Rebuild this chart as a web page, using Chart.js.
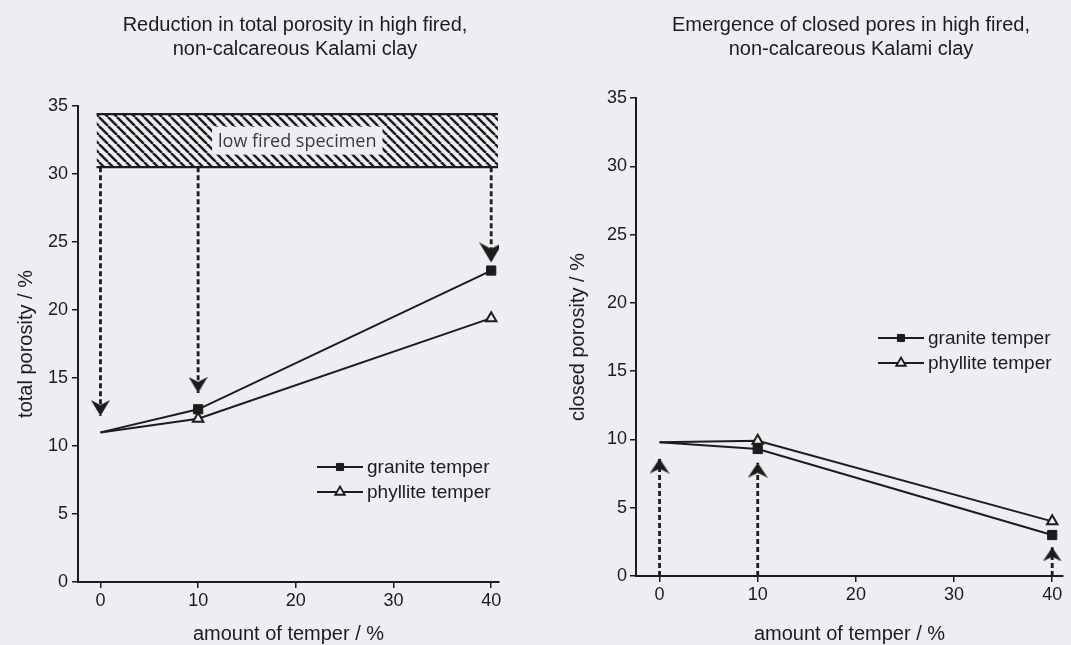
<!DOCTYPE html>
<html>
<head>
<meta charset="utf-8">
<title>Porosity of high fired Kalami clay</title>
<script src="https://cdn.jsdelivr.net/npm/chart.js"></script>
<style>
  html, body { margin: 0; padding: 0; background: #eeeef2; }
  body { width: 1071px; height: 645px; position: relative; overflow: hidden; }
  canvas { position: absolute; top: 0; }
  #totalChart { left: 0; }
  #closedChart { left: 540px; }
</style>
</head>
<body>
<canvas id="totalChart" width="540" height="645"></canvas>
<canvas id="closedChart" width="531" height="645"></canvas>
<script>
// ---- data ----
const temper = [0, 10, 40];                       // amount of temper / %
const totalGranite = [11.0, 12.7, 22.9];          // total porosity / %
const totalPhyllite = [11.0, 12.0, 19.4];
const closedGranite = [9.8, 9.3, 3.0];            // closed porosity / %
const closedPhyllite = [9.8, 9.9, 4.0];
const lowFiredBand = [30.5, 34.4];                // total porosity range, low fired specimen
const lowFiredSpan = [-0.4, 40.7];                // temper range covered by that band
const totalArrowTips = [12.2, 13.9, 23.5];        // where the drop arrows end
const closedArrowTips = [8.6, 8.3, 2.1];          // where the rise arrows end
const xTicks = [0, 10, 20, 30, 40];
const yTicks = [0, 5, 10, 15, 20, 25, 30, 35];
const seriesNames = ['granite temper', 'phyllite temper'];
const totalTitle = ['Reduction in total porosity in high fired,', 'non-calcareous Kalami clay'];
const closedTitle = ['Emergence of closed pores in high fired,', 'non-calcareous Kalami clay'];
const bandText = 'low fired specimen';

// ---- styling ----
const INK = '#1c1c1c';
const BG = '#eeeef2';
const FONT = '"Liberation Sans", Arial, sans-serif';

// arrowhead sprite: tip at the centre, body below it (rotate 180 for a downward arrow)
function arrowhead(w, h) {
  const c = document.createElement('canvas');
  c.width = w; c.height = 2 * h;
  const g = c.getContext('2d');
  g.fillStyle = INK;
  g.beginPath();
  g.moveTo(w / 2, h);
  g.lineTo(0, 2 * h);
  g.lineTo(w / 2, 2 * h - h * 0.32);
  g.lineTo(w, 2 * h);
  g.closePath();
  g.fill();
  return c;
}

function hatchPattern(ctx) {
  const s = 9;
  const c = document.createElement('canvas');
  c.width = s; c.height = s;
  const g = c.getContext('2d');
  g.strokeStyle = INK;
  g.lineWidth = 2.5;
  g.beginPath();
  for (const k of [-1, 0, 1]) { g.moveTo(k * s, 0); g.lineTo(k * s + s, s); }
  g.stroke();
  return ctx.createPattern(c, 'repeat');
}

function drawMarker(ctx, style, x, y, r, fill) {
  ctx.beginPath();
  if (style === 'rect') {
    const h = r * Math.SQRT1_2;
    ctx.rect(x - h, y - h, 2 * h, 2 * h);
  } else {
    let a = 0;
    ctx.moveTo(x + Math.sin(a) * r, y - Math.cos(a) * r);
    a += 2 * Math.PI / 3; ctx.lineTo(x + Math.sin(a) * r, y - Math.cos(a) * r);
    a += 2 * Math.PI / 3; ctx.lineTo(x + Math.sin(a) * r, y - Math.cos(a) * r);
    ctx.closePath();
  }
  ctx.fillStyle = fill;
  ctx.fill();
  ctx.stroke();
}

// ---- plugins ----
const headline = {
  id: 'headline',
  afterDraw(chart, args, opts) {
    const ctx = chart.ctx;
    ctx.save();
    ctx.fillStyle = INK;
    ctx.font = '20px ' + FONT;
    ctx.textAlign = 'center';
    ctx.textBaseline = 'alphabetic';
    opts.lines.forEach((t, i) => ctx.fillText(t, opts.x, opts.baselines[i]));
    ctx.restore();
  }
};

const seriesKey = {
  id: 'seriesKey',
  afterDraw(chart, args, opts) {
    const ctx = chart.ctx;
    chart.data.datasets.filter(d => d.label).forEach((d, i) => {
      const x = opts.x, y = opts.y + i * opts.row;
      ctx.save();
      ctx.strokeStyle = INK;
      ctx.lineWidth = 2;
      ctx.beginPath(); ctx.moveTo(x, y); ctx.lineTo(x + 46, y); ctx.stroke();
      ctx.lineWidth = d.pointStyle === 'rect' ? 1 : 1.8;
      drawMarker(ctx, d.pointStyle, x + 23, y, d.pointStyle === 'rect' ? 5 : 5.5, d.pointBackgroundColor);
      ctx.fillStyle = INK;
      ctx.font = '19px ' + FONT;
      ctx.textAlign = 'left';
      ctx.textBaseline = 'middle';
      ctx.fillText(d.label, x + 50, y + 1);
      ctx.restore();
    });
  }
};

const bandNote = {
  id: 'bandNote',
  afterDatasetsDraw(chart, args, opts) {
    const ctx = chart.ctx;
    const cx = chart.scales.x.getPixelForValue((lowFiredSpan[0] + lowFiredSpan[1]) / 2);
    const cy = chart.scales.y.getPixelForValue((lowFiredBand[0] + lowFiredBand[1]) / 2);
    ctx.save();
    ctx.font = '18px "Open Sans", sans-serif';
    const w = ctx.measureText(opts.text).width + 12;
    const h = 28;
    ctx.fillStyle = BG;
    ctx.fillRect(cx - w / 2, cy - h / 2, w, h);
    ctx.fillStyle = '#3a3a3a';
    ctx.textAlign = 'center';
    ctx.textBaseline = 'middle';
    ctx.fillText(opts.text, cx, cy + 1);
    ctx.restore();
  }
};

// ---- scales ----
function xAxis(min, max, height) {
  return {
    type: 'linear', min, max,
    afterBuildTicks: s => { s.ticks = xTicks.map(v => ({ value: v })); },
    afterFit: s => { s.height = height; },
    grid: { drawOnChartArea: false, drawTicks: true, tickLength: 6, color: INK, lineWidth: 1.5 },
    border: { display: true, color: INK, width: 2 },
    ticks: { color: INK, font: { family: FONT, size: 18 }, padding: 2, maxRotation: 0, autoSkip: false },
    title: { display: true, text: 'amount of temper / %', color: INK,
             font: { family: FONT, size: 20, lineHeight: 1 }, padding: { top: 0, bottom: 1 } }
  };
}

function yAxis(width, titlePad, tickPad, text) {
  return {
    type: 'linear', min: 0, max: 35,
    afterBuildTicks: s => { s.ticks = yTicks.map(v => ({ value: v })); },
    afterFit: s => { s.width = width; },
    grid: { drawOnChartArea: false, drawTicks: true, tickLength: 6, color: INK, lineWidth: 1.5 },
    border: { display: true, color: INK, width: 2 },
    ticks: { color: INK, font: { family: FONT, size: 18 }, padding: tickPad, autoSkip: false },
    title: { display: true, text, color: INK,
             font: { family: FONT, size: 20, lineHeight: 1 }, padding: { top: titlePad, bottom: 0 } }
  };
}

// ---- datasets ----
function seriesSets(granite, phyllite) {
  return [
    { label: seriesNames[0], data: temper.map((x, i) => ({ x, y: granite[i] })),
      borderColor: INK, borderWidth: 2, tension: 0, order: 1,
      pointStyle: 'rect', pointRadius: [0, 6.5, 6.5],
      pointBackgroundColor: INK, pointBorderColor: INK, pointBorderWidth: 1 },
    { label: seriesNames[1], data: temper.map((x, i) => ({ x, y: phyllite[i] })),
      borderColor: INK, borderWidth: 2, tension: 0, order: 1,
      pointStyle: 'triangle', pointRadius: [0, 6, 6],
      pointBackgroundColor: BG, pointBorderColor: INK, pointBorderWidth: 2 }
  ];
}

function arrowSets(from, tips, sizes, down) {
  return temper.map((x, i) => ({
    data: [{ x, y: from }, { x, y: tips[i] }],
    borderColor: INK, borderWidth: 2.8, borderDash: [5, 3], order: 0,
    pointRadius: [0, 5], pointStyle: ['circle', arrowhead(sizes[i][0], sizes[i][1])],
    pointRotation: down ? 180 : 0
  }));
}

const baseOptions = (padding, scales, plugins) => ({
  responsive: false, animation: false, events: [],
  layout: { padding },
  plugins: Object.assign({ legend: { display: false }, tooltip: { enabled: false } }, plugins),
  scales
});

// ---- total porosity chart ----
const totalCtx = document.getElementById('totalChart').getContext('2d');
new Chart(totalCtx, {
  type: 'line',
  data: {
    datasets: [
      { data: lowFiredSpan.map(x => ({ x, y: lowFiredBand[1] })), borderColor: INK, borderWidth: 2.2,
        pointRadius: 0, order: 3 },
      { data: lowFiredSpan.map(x => ({ x, y: lowFiredBand[0] })), borderColor: INK, borderWidth: 2.2,
        pointRadius: 0, order: 3, fill: '-1', backgroundColor: hatchPattern(totalCtx) },
      ...seriesSets(totalGranite, totalPhyllite),
      ...arrowSets(lowFiredBand[0], totalArrowTips, [[19, 16], [19, 16], [24, 20]], true)
    ]
  },
  options: baseOptions(
    { top: 106, right: 41, bottom: 0, left: 0 },
    { x: xAxis(-2.3, 40.8, 63), y: yAxis(78, 16, 4, 'total porosity / %') },
    {
      headline: { lines: totalTitle, x: 295, baselines: [31, 55] },
      seriesKey: { x: 317, y: 467, row: 25 },
      bandNote: { text: bandText }
    }
  ),
  plugins: [headline, seriesKey, bandNote]
});

// ---- closed porosity chart ----
const closedCtx = document.getElementById('closedChart').getContext('2d');
new Chart(closedCtx, {
  type: 'line',
  data: {
    datasets: [
      ...seriesSets(closedGranite, closedPhyllite),
      ...arrowSets(0, closedArrowTips, [[20, 15], [20, 15], [19, 14]], false)
    ]
  },
  options: baseOptions(
    { top: 98, right: 4, bottom: 0, left: 0 },
    { x: xAxis(-2.4, 41.1, 69), y: yAxis(96, 28, 3, 'closed porosity / %') },
    {
      headline: { lines: closedTitle, x: 311, baselines: [31, 55] },
      seriesKey: { x: 338, y: 338, row: 25 }
    }
  ),
  plugins: [headline, seriesKey]
});
</script>
</body>
</html>
